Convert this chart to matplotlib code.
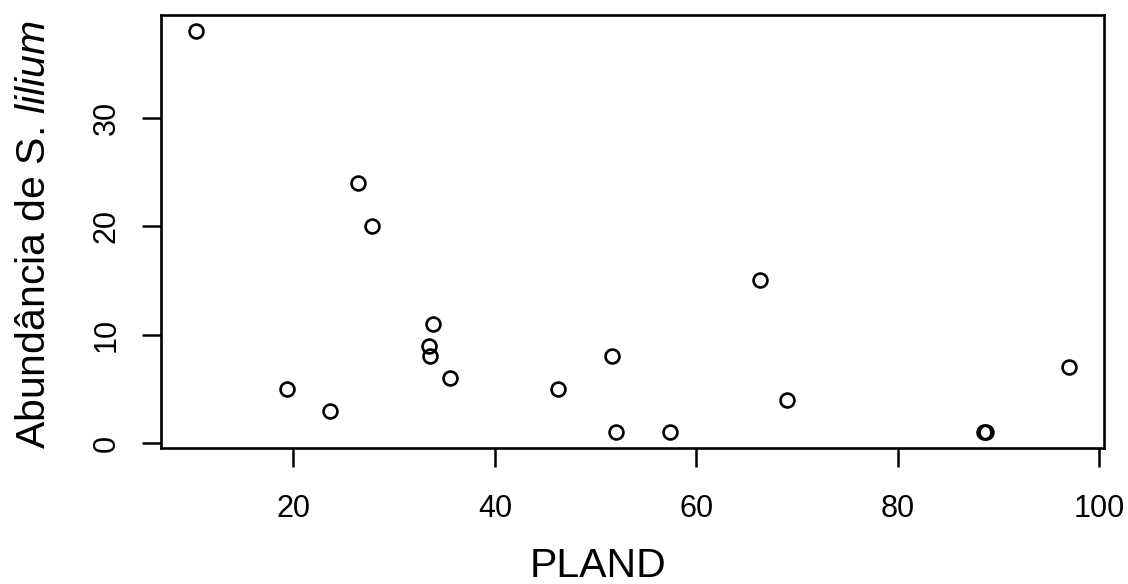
import matplotlib
matplotlib.use("Agg")
import matplotlib.pyplot as plt
import numpy as np

plt.rcParams['font.family'] = ['Liberation Sans', 'DejaVu Sans']
plt.rcParams['mathtext.fontset'] = 'custom'
plt.rcParams['mathtext.rm'] = 'Liberation Sans'
plt.rcParams['mathtext.it'] = 'Liberation Sans:italic'

# dados
pland = [10.3, 19.4, 23.6, 26.4, 27.8, 33.5, 33.6, 33.9, 35.5,
         46.3, 51.6, 52.0, 57.4, 66.3, 69.0, 88.6, 88.8, 97.0]
abundancia = [38, 5, 3, 24, 20, 9, 8, 11, 6,
              5, 8, 1, 1, 15, 4, 1, 1, 7]
xticks = [20, 40, 60, 80, 100]
yticks = [0, 10, 20, 30]


def r_lim(v):
    """Limites como no R (expansão de 4%)."""
    lo, hi = min(v), max(v)
    d = (hi - lo) * 0.04
    return lo - d, hi + d


W, H = 1128, 584
fig = plt.figure(figsize=(W / 100, H / 100), dpi=100)
ax = fig.add_axes([160.7 / W, 1 - 448.3 / H, (1104 - 160.7) / W, (448.3 - 15) / H])

ax.plot(pland, abundancia, linestyle='none', marker='o', markersize=10,
        markerfacecolor='none', markeredgecolor='black', markeredgewidth=1.9)

ax.set_xlim(*r_lim(pland))
ax.set_ylim(*r_lim(abundancia))
ax.set_xticks(xticks)
ax.set_yticks(yticks)

for s in ax.spines.values():
    s.set_linewidth(1.9)

ax.tick_params(axis='both', direction='out', length=14, width=1.8, labelsize=22)
ax.tick_params(axis='x', pad=19)
ax.tick_params(axis='y', pad=14, labelrotation=90)
for lab in ax.get_yticklabels():
    lab.set_va('center')

fig.text(598 / W, 1 - 577 / H, 'PLAND', fontsize=29.5, ha='center', va='baseline')
fig.text(45.5 / W, 1 - 235 / H, r'Abundância de S. $\it{lilium}$', fontsize=29.5,
         rotation=90, rotation_mode='anchor', ha='center', va='baseline')

fig.savefig('out.png', dpi=100, facecolor='white')
plt.close(fig)
